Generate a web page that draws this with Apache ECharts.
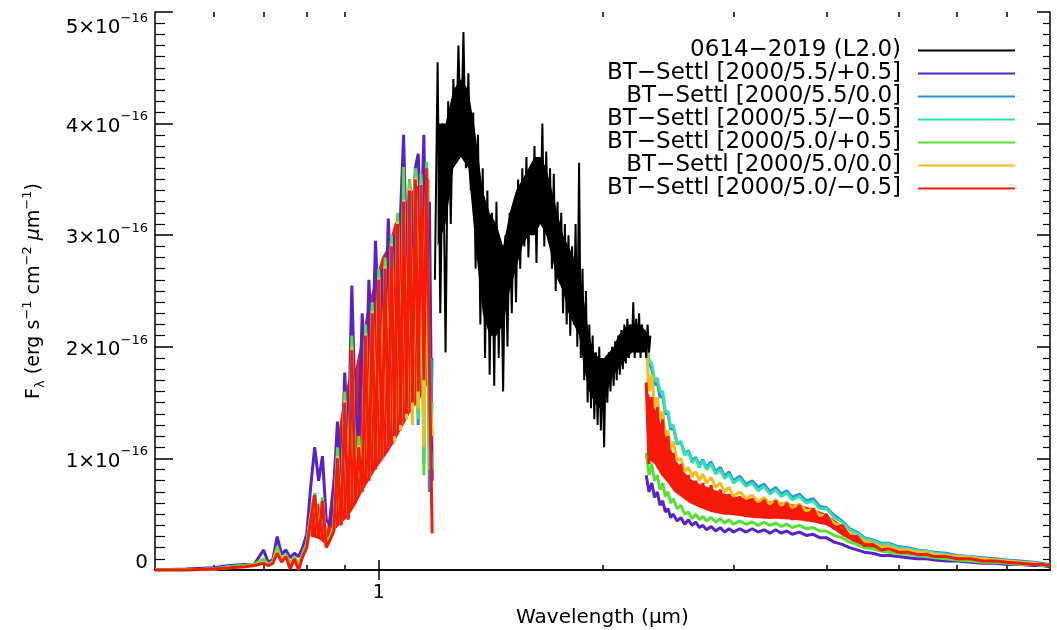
<!DOCTYPE html>
<html>
<head>
<meta charset="utf-8">
<script src="https://cdn.jsdelivr.net/npm/echarts@6/dist/echarts.min.js"></script>
<style>
  html, body { margin: 0; padding: 0; background: #fff; }
  #chart { width: 1057px; height: 630px; }
</style>
</head>
<body>
<div id="chart"></div>
<script>
// ============================================
//  0614-2019 spectrum vs BT-Settl models
//  flux in units of 1e-16 erg s-1 cm-2 um-1
// ============================================
const FONT = 'DejaVu Sans'

// observed spectrum (black)
const blackWave = [
  1.19, 1.20, 1.21, 1.22, 1.23, 1.24, 1.25, 1.26, 1.27, 1.28,
  1.29, 1.30, 1.31, 1.32, 1.33, 1.34, 1.35, 1.36, 1.37, 1.38,
  1.39, 1.40, 1.41, 1.42, 1.43, 1.44, 1.45, 1.46, 1.47, 1.48,
  1.49, 1.50, 1.51, 1.52, 1.53, 1.54, 1.55, 1.56, 1.57, 1.58,
  1.59, 1.60, 1.61, 1.62, 1.63, 1.64, 1.65, 1.66, 1.67, 1.68,
  1.69, 1.70, 1.71, 1.72, 1.73, 1.74, 1.75, 1.76, 1.77, 1.78,
  1.79, 1.80, 1.81, 1.82, 1.83, 1.84, 1.85, 1.86, 1.87, 1.88,
  1.89, 1.90, 1.91, 1.92, 1.93, 1.94, 1.95, 1.96, 1.97, 1.98,
  1.99, 2.00, 2.01, 2.02, 2.03, 2.04, 2.05, 2.06, 2.07, 2.08,
  2.09, 2.10, 2.11, 2.12, 2.13, 2.14, 2.15, 2.16, 2.17, 2.18,
  2.19, 2.20, 2.21, 2.22, 2.23, 2.24, 2.25, 2.26, 2.27, 2.28,
  2.29, 2.30, 2.31, 2.32
]
const blackFlux = [
  2.6, 4.55, 2.3, 4.0, 1.95, 4.2, 3.1, 4.4, 3.7, 4.7,
  3.8, 4.82, 3.6, 4.45, 3.4, 4.1, 2.7, 3.9, 2.2, 3.6,
  1.9, 3.4, 1.75, 3.2, 1.65, 3.3, 1.9, 2.9, 1.6, 3.0,
  2.0, 3.2, 2.3, 3.3, 2.4, 3.5, 2.7, 3.6, 2.9, 3.7,
  2.8, 3.55, 3.0, 3.8, 2.75, 3.7, 3.1, 4.0, 2.9, 3.75,
  3.0, 3.6, 2.7, 3.55, 2.5, 3.3, 2.6, 3.2, 2.3, 3.1,
  2.2, 3.0, 2.1, 2.9, 2.2, 3.1, 2.0, 3.65, 1.9, 2.7,
  1.7, 2.5, 1.5, 2.2, 1.45, 2.1, 1.35, 1.95, 1.3, 2.0,
  1.25, 1.85, 1.1, 1.9, 1.5, 1.95, 1.6, 2.0, 1.65, 2.05,
  1.7, 2.1, 1.75, 2.15, 1.8, 2.2, 1.85, 2.25, 1.9, 2.2,
  1.95, 2.4, 1.9, 2.25, 1.95, 2.3, 1.9, 2.2, 2.0, 2.15,
  1.9, 2.2, 1.95, 2.1
]
// dense core of the observed spectrum (lower / upper edge)
const blackCoreWave = [
  1.20, 1.23, 1.26, 1.29, 1.32, 1.35, 1.38, 1.41, 1.44, 1.47,
  1.50, 1.53, 1.56, 1.59, 1.62, 1.65, 1.68, 1.71, 1.74, 1.77,
  1.80, 1.83, 1.86, 1.89, 1.92, 1.95, 1.98, 2.01, 2.04, 2.07,
  2.10, 2.13, 2.16, 2.19, 2.22, 2.25, 2.28, 2.31
]
const blackCoreLo = [
  2.9, 3.1, 3.6, 3.7, 3.6, 2.9, 2.3, 2.1, 2.1, 2.2,
  2.5, 2.7, 2.9, 3.0, 3.0, 3.1, 3.0, 2.8, 2.6, 2.5,
  2.3, 2.2, 2.1, 1.8, 1.6, 1.5, 1.45, 1.5, 1.65, 1.75,
  1.8, 1.85, 1.9, 1.95, 1.95, 1.95, 1.95, 1.95
]
const blackCoreHi = [
  4.0, 4.0, 4.3, 4.4, 4.3, 3.9, 3.4, 3.2, 3.1, 2.9,
  3.2, 3.4, 3.5, 3.6, 3.7, 3.7, 3.6, 3.4, 3.2, 3.0,
  2.9, 2.8, 2.7, 2.4, 2.1, 1.95, 1.9, 1.9, 1.95, 2.0,
  2.1, 2.15, 2.2, 2.2, 2.2, 2.2, 2.15, 2.1
]

// model wavelength grids: optical part and infrared part
const optWave = [
  0.50, 0.55, 0.60, 0.63, 0.66, 0.68,
  0.70, 0.71, 0.72, 0.73, 0.74, 0.75, 0.76, 0.77, 0.78, 0.79,
  0.80, 0.81, 0.82, 0.83, 0.84, 0.85, 0.86, 0.87, 0.88, 0.89,
  0.90, 0.91, 0.92, 0.93, 0.94, 0.95, 0.96, 0.97, 0.98, 0.99,
  1.00, 1.01, 1.02, 1.03, 1.04, 1.05, 1.06, 1.07, 1.08, 1.09,
  1.10, 1.11, 1.12, 1.13, 1.14, 1.15, 1.16, 1.17, 1.18
]
const irWave = [
  2.29, 2.31, 2.33, 2.35, 2.37, 2.39, 2.41, 2.43, 2.45, 2.47,
  2.49, 2.52, 2.55, 2.58, 2.61, 2.64, 2.67, 2.70, 2.73, 2.76,
  2.80, 2.84, 2.88, 2.92, 2.96, 3.00, 3.06, 3.12, 3.18, 3.24,
  3.30, 3.36, 3.42, 3.48, 3.54, 3.60, 3.68, 3.76, 3.84, 3.92,
  4.00, 4.10, 4.20, 4.30, 4.40, 4.50, 4.62, 4.74, 4.86, 5.00,
  5.15, 5.30, 5.45, 5.60, 5.80, 6.00, 6.25, 6.50, 6.75, 7.00,
  7.30, 7.60, 7.80, 8.00
]

// BT-Settl [2000/5.5/+0.5]
const purpleOpt = [
  0.0, 0.01, 0.02, 0.04, 0.05, 0.05,
  0.18, 0.07, 0.09, 0.30, 0.14, 0.18, 0.11, 0.15, 0.12, 0.2,
  0.32, 0.75, 1.1, 0.8, 1.02, 0.45, 0.4, 0.75, 1.33, 0.8,
  1.77, 1.1, 2.55, 1.4, 1.2, 2.3, 1.5, 2.6, 1.9, 2.95,
  2.2, 2.7, 2.1, 3.15, 2.4, 3.0, 2.5, 3.2, 3.9, 2.8,
  3.5, 2.9, 3.6, 3.73, 3.0, 3.9, 2.5, 3.3, 0.8
]
const purpleIr = [
  0.85, 0.7, 0.78, 0.65, 0.7, 0.58, 0.62, 0.52, 0.55, 0.47,
  0.5, 0.44, 0.47, 0.41, 0.45, 0.4, 0.43, 0.38, 0.4, 0.36,
  0.39, 0.35, 0.38, 0.34, 0.37, 0.34, 0.37, 0.34, 0.37, 0.34,
  0.36, 0.33, 0.36, 0.33, 0.35, 0.32, 0.34, 0.31, 0.32, 0.29,
  0.29, 0.25, 0.23, 0.2, 0.18, 0.16, 0.15, 0.13, 0.13, 0.12,
  0.11, 0.1, 0.1, 0.09, 0.08, 0.08, 0.07, 0.06, 0.06, 0.05,
  0.05, 0.04, 0.04, 0.03
]

// BT-Settl [2000/5.5/0.0]
const blueOpt = [
  0.0, 0.0, 0.01, 0.03, 0.04, 0.05,
  0.09, 0.05, 0.07, 0.19, 0.09, 0.13, 0.05, 0.11, 0.04, 0.14,
  0.23, 0.48, 0.68, 0.3, 0.63, 0.22, 0.28, 0.38, 1.05, 0.42,
  1.55, 0.5, 2.05, 0.65, 1.15, 0.72, 2.15, 0.85, 2.35, 0.95,
  2.65, 1.0, 2.75, 1.1, 2.95, 1.15, 3.15, 1.25, 3.4, 1.35,
  3.45, 1.4, 3.55, 1.3, 3.5, 0.95, 3.5, 0.7, 1.9
]
const blueIr = [
  2.05, 1.85, 1.8, 1.66, 1.68, 1.55, 1.56, 1.4, 1.4, 1.26,
  1.28, 1.13, 1.15, 1.04, 1.07, 0.98, 1.01, 0.94, 0.99, 0.92,
  0.97, 0.88, 0.92, 0.84, 0.88, 0.8, 0.84, 0.77, 0.8, 0.74,
  0.77, 0.7, 0.74, 0.68, 0.71, 0.65, 0.68, 0.62, 0.64, 0.57,
  0.56, 0.49, 0.44, 0.37, 0.34, 0.29, 0.27, 0.24, 0.24, 0.21,
  0.2, 0.18, 0.17, 0.16, 0.15, 0.13, 0.12, 0.11, 0.1, 0.09,
  0.08, 0.07, 0.06, 0.05
]

// BT-Settl [2000/5.5/-0.5]
const cyanOpt = [
  0.0, 0.0, 0.01, 0.03, 0.04, 0.05,
  0.08, 0.05, 0.07, 0.18, 0.08, 0.13, 0.04, 0.11, 0.03, 0.13,
  0.22, 0.47, 0.68, 0.3, 0.63, 0.22, 0.28, 0.37, 1.03, 0.42,
  1.53, 0.5, 2.02, 0.63, 1.13, 0.72, 2.13, 0.83, 2.33, 0.93,
  2.63, 1.02, 2.73, 1.12, 2.93, 1.2, 3.13, 1.3, 3.35, 1.4,
  3.43, 1.45, 3.53, 1.35, 3.48, 1.0, 3.55, 0.9, 1.5
]
const cyanIr = [
  2.1, 1.88, 1.85, 1.7, 1.72, 1.6, 1.6, 1.42, 1.42, 1.28,
  1.3, 1.14, 1.15, 1.03, 1.06, 0.96, 1.0, 0.92, 0.98, 0.9,
  0.95, 0.86, 0.9, 0.82, 0.86, 0.78, 0.82, 0.75, 0.78, 0.71,
  0.75, 0.68, 0.72, 0.66, 0.69, 0.63, 0.66, 0.6, 0.62, 0.55,
  0.55, 0.47, 0.43, 0.36, 0.33, 0.28, 0.26, 0.23, 0.23, 0.2,
  0.19, 0.17, 0.17, 0.15, 0.14, 0.12, 0.12, 0.1, 0.09, 0.08,
  0.07, 0.06, 0.05, 0.04
]

// BT-Settl [2000/5.0/+0.5]
const greenOpt = [
  0.0, 0.0, 0.01, 0.03, 0.04, 0.05,
  0.1, 0.05, 0.07, 0.21, 0.09, 0.14, 0.06, 0.12, 0.05, 0.15,
  0.24, 0.5, 0.69, 0.32, 0.65, 0.24, 0.3, 0.4, 1.1, 0.45,
  1.6, 0.55, 2.1, 0.7, 1.2, 0.75, 2.2, 0.9, 2.4, 1.0,
  2.7, 1.05, 2.8, 1.15, 3.0, 1.2, 3.2, 1.3, 3.61, 1.4,
  3.5, 1.45, 3.6, 1.4, 3.55, 0.85, 3.66, 1.2, 0.9
]
const greenIr = [
  1.05, 0.85, 0.95, 0.8, 0.85, 0.72, 0.78, 0.66, 0.7, 0.6,
  0.64, 0.55, 0.58, 0.5, 0.52, 0.46, 0.5, 0.45, 0.48, 0.44,
  0.47, 0.43, 0.46, 0.42, 0.45, 0.41, 0.44, 0.41, 0.43, 0.4,
  0.43, 0.4, 0.42, 0.39, 0.41, 0.38, 0.4, 0.37, 0.38, 0.35,
  0.35, 0.31, 0.29, 0.25, 0.23, 0.2, 0.19, 0.17, 0.16, 0.15,
  0.14, 0.13, 0.12, 0.11, 0.1, 0.09, 0.08, 0.07, 0.07, 0.06,
  0.05, 0.05, 0.04, 0.04
]

// BT-Settl [2000/5.0/0.0]
const yellowOpt = [
  0.0, 0.0, 0.01, 0.02, 0.03, 0.04,
  0.07, 0.04, 0.06, 0.17, 0.08, 0.13, 0.03, 0.11, 0.02, 0.13,
  0.21, 0.46, 0.66, 0.29, 0.62, 0.21, 0.28, 0.36, 1.02, 0.41,
  1.52, 0.47, 2.0, 0.62, 1.12, 0.7, 2.12, 0.82, 2.32, 0.92,
  2.62, 1.0, 2.72, 1.1, 2.92, 1.15, 3.12, 1.25, 3.32, 1.35,
  3.42, 1.3, 3.52, 1.45, 3.46, 1.1, 3.58, 1.6, 1.2
]
const yellowIr = [
  2.05, 1.6, 1.75, 1.45, 1.55, 1.35, 1.42, 1.2, 1.25, 1.08,
  1.15, 0.98, 1.0, 0.88, 0.92, 0.84, 0.88, 0.8, 0.86, 0.78,
  0.83, 0.74, 0.78, 0.7, 0.74, 0.66, 0.7, 0.64, 0.67, 0.61,
  0.65, 0.59, 0.63, 0.58, 0.61, 0.56, 0.59, 0.53, 0.55, 0.49,
  0.49, 0.42, 0.39, 0.33, 0.3, 0.26, 0.24, 0.21, 0.21, 0.18,
  0.18, 0.16, 0.16, 0.14, 0.13, 0.12, 0.11, 0.1, 0.09, 0.08,
  0.07, 0.06, 0.05, 0.04
]

// BT-Settl [2000/5.0/-0.5]
const redOpt = [
  0.0, 0.0, 0.01, 0.02, 0.03, 0.04,
  0.06, 0.04, 0.06, 0.15, 0.07, 0.12, 0.01, 0.1, 0.0, 0.12,
  0.2, 0.45, 0.67, 0.28, 0.62, 0.2, 0.27, 0.35, 1.0, 0.4,
  1.5, 0.45, 1.97, 0.6, 1.1, 0.7, 2.1, 0.8, 2.3, 0.9,
  2.6, 1.0, 2.7, 1.1, 2.9, 1.2, 3.1, 1.3, 3.3, 1.4,
  3.4, 1.5, 3.5, 1.6, 3.45, 1.7, 3.6, 1.8, 0.33
]
const redIr = [
  1.68, 0.95, 1.55, 1.0, 1.46, 0.95, 1.35, 0.85, 1.2, 0.8,
  1.05, 0.72, 0.95, 0.68, 0.85, 0.62, 0.8, 0.58, 0.78, 0.55,
  0.76, 0.52, 0.72, 0.5, 0.68, 0.5, 0.66, 0.48, 0.64, 0.47,
  0.63, 0.46, 0.62, 0.46, 0.6, 0.45, 0.58, 0.44, 0.55, 0.42,
  0.5, 0.37, 0.4, 0.3, 0.3, 0.22, 0.23, 0.18, 0.19, 0.16,
  0.16, 0.14, 0.14, 0.12, 0.12, 0.1, 0.1, 0.08, 0.08, 0.07,
  0.06, 0.05, 0.05, 0.04
]
// dense core of the red model (optical and infrared)
const redCoreOptWave = [
  0.81, 0.83, 0.85, 0.87, 0.89, 0.91, 0.93, 0.95, 0.97, 0.99,
  1.01, 1.03, 1.05, 1.07, 1.09, 1.11, 1.13, 1.15, 1.17
]
const redCoreOptLo = [
  0.3, 0.28, 0.22, 0.35, 0.42, 0.48, 0.58, 0.7, 0.8, 0.9,
  0.98, 1.06, 1.15, 1.25, 1.35, 1.45, 1.5, 1.6, 1.7
]
const redCoreOptHi = [
  0.55, 0.6, 0.3, 0.9, 1.4, 1.7, 1.8, 2.1, 2.4, 2.6,
  2.8, 2.9, 3.1, 3.2, 3.3, 3.4, 3.45, 3.5, 3.5
]
const redCoreIrWave = [
  2.30, 2.35, 2.40, 2.45, 2.50, 2.56, 2.62, 2.70, 2.80, 2.90, 3.00, 3.15,
  3.30, 3.45, 3.60, 3.75, 3.90, 4.00, 4.10, 4.20, 4.30, 4.40, 4.55, 4.70
]
const redCoreIrLo = [
  1.0, 0.95, 0.85, 0.78, 0.7, 0.65, 0.6, 0.56, 0.52, 0.5, 0.49, 0.47,
  0.46, 0.46, 0.45, 0.44, 0.42, 0.4, 0.36, 0.31, 0.27, 0.23, 0.19, 0.17
]
const redCoreIrHi = [
  1.6, 1.45, 1.3, 1.15, 1.0, 0.9, 0.82, 0.77, 0.73, 0.69, 0.66, 0.64,
  0.62, 0.61, 0.59, 0.57, 0.53, 0.5, 0.45, 0.4, 0.34, 0.3, 0.24, 0.2
]

const blackName = '0614\u22122019 (L2.0)'
const models = [
  { name: 'BT\u2212Settl [2000/5.5/+0.5]', color: '#5522cc', opt: purpleOpt, ir: purpleIr },
  { name: 'BT\u2212Settl [2000/5.5/0.0]', color: '#2a8fe6', opt: blueOpt, ir: blueIr },
  { name: 'BT\u2212Settl [2000/5.5/\u22120.5]', color: '#33e0b0', opt: cyanOpt, ir: cyanIr },
  { name: 'BT\u2212Settl [2000/5.0/+0.5]', color: '#55e033', opt: greenOpt, ir: greenIr },
  { name: 'BT\u2212Settl [2000/5.0/0.0]', color: '#f7bb1a', opt: yellowOpt, ir: yellowIr },
  { name: 'BT\u2212Settl [2000/5.0/\u22120.5]', color: '#f51a0a', opt: redOpt, ir: redIr }
]
const RED = models[5].color

const yTicks = [0, 1, 2, 3, 4, 5]
const xMajorTicks = [1]
const xMinorTicks = [0.6, 0.7, 0.8, 0.9, 2, 3, 4, 5, 6, 7]

function pairs(wave, flux) {
  return wave.map((w, i) => [w, flux[i]])
}

// filled band between the lower and upper edge, drawn through the axes
function band(id, wave, lo, hi, color) {
  return {
    name: id, type: 'custom', coordinateSystem: 'cartesian2d', silent: true, clip: true,
    encode: { x: 0, y: [1, 2] },
    data: wave.map((w, i) => [w, lo[i], hi[i]]),
    renderItem: (params, api) => {
      if (params.dataIndex !== 0) return null
      const top = wave.map((w, i) => api.coord([w, hi[i]]))
      const bottom = wave.map((w, i) => api.coord([w, lo[i]])).reverse()
      return { type: 'polygon', shape: { points: top.concat(bottom) }, style: { fill: color } }
    }
  }
}

const GRID = { left: 155, right: 7, top: 12, bottom: 60, outerBoundsMode: 'none' }
const black = '#000'

function logAxis(gridIndex, position, ticks, len, extra) {
  return Object.assign({
    type: 'log', logBase: 10, min: 0.5, max: 8,
    gridIndex, position,
    axisLine: { show: gridIndex === 0, lineStyle: { color: black, width: 1.5 } },
    axisTick: { show: true, inside: true, length: len, customValues: ticks,
      lineStyle: { color: black, width: 1.5 } },
    axisLabel: { show: false },
    splitLine: { show: false },
    minorTick: { show: false },
    minorSplitLine: { show: false }
  }, extra || {})
}

const supRich = {
  m: { fontFamily: FONT, fontSize: 20, color: black, lineHeight: 26, verticalAlign: 'bottom' },
  s: { fontFamily: FONT, fontSize: 13, color: black, lineHeight: 13, verticalAlign: 'top' },
  z: { fontFamily: FONT, fontSize: 20, color: black, lineHeight: 14 }
}

const lineSeries = models.map(m => ({
  name: m.name, type: 'line',
  showSymbol: false, symbol: 'none', silent: true,
  color: m.color,
  lineStyle: { color: m.color, width: 3, join: 'bevel' },
  data: pairs(optWave, m.opt).concat([[1.7, '-']], pairs(irWave, m.ir))
}))

const option = {
  backgroundColor: '#fff',
  animation: false,
  grid: [GRID, GRID],
  legend: {
    orient: 'vertical', right: 37, top: 34, align: 'right',
    itemWidth: 97, itemHeight: 2, itemGap: 0, icon: 'rect',
    textStyle: { fontFamily: FONT, fontSize: 23, color: black, lineHeight: 22, padding: [0, 12, 0, 0] },
    data: [blackName].concat(models.map(m => m.name))
  },
  xAxis: [
    logAxis(0, 'bottom', xMajorTicks, 10, {
      axisLabel: { show: true, customValues: xMajorTicks, margin: 14,
        fontFamily: FONT, fontSize: 19, color: black, formatter: v => String(v) },
      name: 'Wavelength (\u03bcm)', nameLocation: 'middle', nameGap: 31,
      nameTextStyle: { fontFamily: FONT, fontSize: 20, color: black }
    }),
    logAxis(0, 'top', xMajorTicks, 10),
    logAxis(1, 'bottom', xMinorTicks, 5),
    logAxis(1, 'top', xMinorTicks, 5)
  ],
  yAxis: [
    {
      type: 'value', gridIndex: 0, position: 'left', min: 0, max: 5, interval: 1,
      axisLine: { show: true, lineStyle: { color: black, width: 1.5 } },
      axisTick: { show: true, inside: true, length: 18, lineStyle: { color: black, width: 1.5 } },
      minorTick: { show: true, splitNumber: 10, length: 10, lineStyle: { color: black, width: 1.2 } },
      splitLine: { show: false },
      axisLabel: {
        margin: 7, customValues: yTicks,
        verticalAlignMaxLabel: 'top', verticalAlignMinLabel: 'bottom',
        formatter: v => v === 0 ? '{z|0}' : '{m|' + v + '\u00d710}{s|\u221216}',
        rich: supRich
      },
      name: '{n|F}{b|\u03bb}{n| (erg s}{s|\u22121}{n| cm}{s|\u22122}{i| \u03bc}{n|m}{s|\u22121}{n|)}',
      nameLocation: 'middle', nameGap: 108, nameRotate: 90,
      nameTextStyle: {
        rich: {
          n: { fontFamily: FONT, fontSize: 19, color: black, lineHeight: 26, verticalAlign: 'middle' },
          i: { fontFamily: FONT, fontSize: 19, color: black, fontStyle: 'italic', lineHeight: 26, verticalAlign: 'middle' },
          s: { fontFamily: FONT, fontSize: 13, color: black, lineHeight: 13, verticalAlign: 'top' },
          b: { fontFamily: FONT, fontSize: 13, color: black, lineHeight: 13, verticalAlign: 'bottom' }
        }
      }
    },
    {
      type: 'value', gridIndex: 0, position: 'right', min: 0, max: 5, interval: 1,
      axisLine: { show: true, lineStyle: { color: black, width: 1.5 } },
      axisTick: { show: true, inside: true, length: 13, lineStyle: { color: black, width: 1.5 } },
      minorTick: { show: true, splitNumber: 10, length: 7, lineStyle: { color: black, width: 1.2 } },
      splitLine: { show: false },
      axisLabel: { show: false }
    },
    { type: 'value', gridIndex: 1, min: 0, max: 5, show: false }
  ],
  series: [].concat(
    lineSeries,
    [
      band('red optical', redCoreOptWave, redCoreOptLo, redCoreOptHi, RED),
      band('red infrared', redCoreIrWave, redCoreIrLo, redCoreIrHi, RED),
      band('black core', blackCoreWave, blackCoreLo, blackCoreHi, black),
      {
        name: blackName, type: 'line',
        showSymbol: false, symbol: 'none', silent: true,
        color: black,
        lineStyle: { color: black, width: 2, join: 'bevel' },
        data: pairs(blackWave, blackFlux)
      }
    ]
  )
}

const chart = echarts.init(document.getElementById('chart'))
chart.setOption(option)
</script>
</body>
</html>
